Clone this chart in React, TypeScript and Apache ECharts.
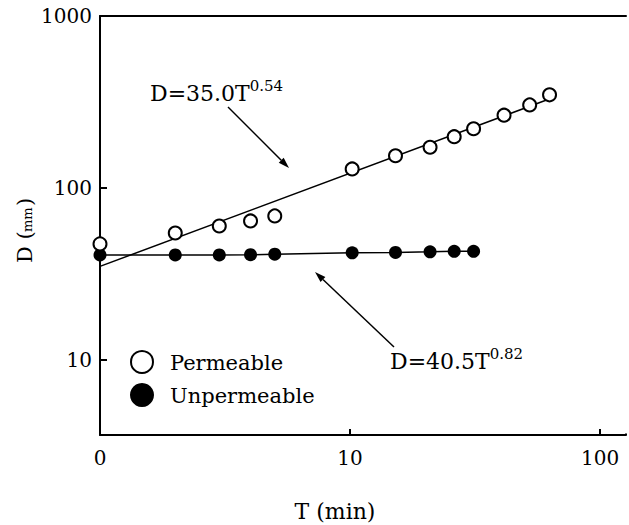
import React, { useEffect, useRef } from "react";
import * as echarts from "echarts";

const permT = [1, 2, 3, 4, 5, 10.2, 15.2, 20.9, 26.1, 31.2, 41.3, 52.3, 62.8];
const permD = [47.3, 54.7, 60.1, 64.3, 68.8, 129, 154, 172.6, 198.7, 221, 265, 304, 348];
const unpermT = [1, 2, 3, 4, 5, 10.2, 15.2, 20.9, 26.1, 31.2];
const unpermD = [40.8, 40.8, 40.8, 40.9, 41.2, 42.0, 42.2, 42.5, 42.8, 42.8];
const fitT = [1, 63];
const fitD = [35, 330];

const SERIF = "DejaVu Serif";

function isPow10(v: number) {
  const l = Math.log10(v);
  return Math.abs(l - Math.round(l)) < 1e-6;
}

function arrow(x1: number, y1: number, x2: number, y2: number) {
  const dx = x2 - x1;
  const dy = y2 - y1;
  const len = Math.sqrt(dx * dx + dy * dy);
  const ux = dx / len;
  const uy = dy / len;
  const nx = -uy;
  const ny = ux;
  const hl = 11;
  const hw = 3.5;
  const bx = x2 - ux * hl;
  const by = y2 - uy * hl;
  return [
    {
      type: "line",
      shape: { x1, y1, x2: bx, y2: by },
      style: { stroke: "#000", lineWidth: 1.5 },
    },
    {
      type: "polygon",
      shape: {
        points: [
          [x2, y2],
          [bx + nx * hw, by + ny * hw],
          [bx - nx * hw, by - ny * hw],
        ],
      },
      style: { fill: "#000" },
    },
  ];
}

export default function App() {
  const ref = useRef<HTMLDivElement>(null);
  useEffect(() => {
    if (!ref.current) return;
    const chart = echarts.init(ref.current, null, { renderer: "svg" });
    const labelStyle = {
      fontFamily: SERIF,
      fontSize: 20,
      color: "#000",
    };
    const eqRich = {
      m: { fontFamily: SERIF, fontSize: 22, lineHeight: 26, verticalAlign: "bottom", fill: "#000" },
      s: { fontFamily: SERIF, fontSize: 15, lineHeight: 26, verticalAlign: "top", fill: "#000" },
    };
    chart.setOption({
      animation: false,
      backgroundColor: "#fff",
      grid: { left: 100, right: 1, top: 16, bottom: 90, containLabel: false },
      xAxis: [
        {
          type: "log",
          min: 1,
          max: 127,
          position: "bottom",
          axisLine: { lineStyle: { color: "#000", width: 2 } },
          axisTick: { inside: true, length: 6, lineStyle: { color: "#000", width: 2 } },
          minorTick: { show: false },
          splitLine: { show: false },
          axisLabel: {
            ...labelStyle,
            margin: 13,
            formatter: (v: number) => (isPow10(v) ? (Math.abs(v - 1) < 1e-6 ? "0" : String(Math.round(v))) : ""),
          },
        },
        {
          type: "log",
          min: 1,
          max: 127,
          position: "top",
          axisLine: { lineStyle: { color: "#000", width: 2 } },
          axisTick: { show: false },
          axisLabel: { show: false },
          splitLine: { show: false },
        },
      ],
      yAxis: {
        type: "log",
        min: 3.66,
        max: 1000,
        axisLine: { lineStyle: { color: "#000", width: 2 } },
        axisTick: { inside: true, length: 7, lineStyle: { color: "#000", width: 2 } },
        minorTick: { show: false },
        splitLine: { show: false },
        axisLabel: {
          ...labelStyle,
          margin: 8,
          formatter: (v: number) => (isPow10(v) ? String(Math.round(v)) : ""),
        },
      },
      series: [
        {
          name: "fit",
          type: "line",
          data: fitT.map((t, i) => [t, fitD[i]]),
          symbol: "none",
          lineStyle: { color: "#000", width: 1.5 },
          z: 1,
        },
        {
          name: "Unpermeable",
          type: "line",
          data: unpermT.map((t, i) => [t, unpermD[i]]),
          symbol: "circle",
          symbolSize: 13,
          itemStyle: { color: "#000" },
          lineStyle: { color: "#000", width: 1.5 },
          z: 2,
        },
        {
          name: "Permeable",
          type: "scatter",
          data: permT.map((t, i) => [t, permD[i]]),
          symbol: "circle",
          symbolSize: 13,
          itemStyle: { color: "#fff", borderColor: "#000", borderWidth: 2, opacity: 1 },
          z: 3,
        },
      ],
      graphic: [
        {
          type: "rect",
          shape: { x: 616, y: 420, width: 13, height: 13.5 },
          style: { fill: "#fff" },
          z: 100,
        },
        ...arrow(228, 107, 289, 168),
        ...arrow(394, 347, 315, 272),
        {
          type: "text",
          x: 150,
          y: 78,
          style: { text: "{m|D=35.0T}{s|0.54}", rich: eqRich, align: "left", verticalAlign: "top" },
        },
        {
          type: "text",
          x: 390,
          y: 346,
          style: { text: "{m|D=40.5T}{s|0.82}", rich: eqRich, align: "left", verticalAlign: "top" },
        },
        {
          type: "circle",
          shape: { cx: 142, cy: 362, r: 11 },
          style: { fill: "#fff", stroke: "#000", lineWidth: 2 },
        },
        {
          type: "circle",
          shape: { cx: 142, cy: 395, r: 12 },
          style: { fill: "#000" },
        },
        {
          type: "text",
          x: 170,
          y: 363,
          style: { text: "Permeable", fontFamily: SERIF, fontSize: 21, fill: "#000", align: "left", verticalAlign: "middle" },
        },
        {
          type: "text",
          x: 170,
          y: 396,
          style: { text: "Unpermeable", fontFamily: SERIF, fontSize: 21, fill: "#000", align: "left", verticalAlign: "middle" },
        },
        {
          type: "text",
          x: 335,
          y: 511,
          style: { text: "T (min)", fontFamily: SERIF, fontSize: 22, fill: "#000", align: "center", verticalAlign: "middle" },
        },
        {
          type: "text",
          x: 14,
          y: 263,
          rotation: Math.PI / 2,
          style: { text: "D (", fontFamily: SERIF, fontSize: 21, fill: "#000" },
          z: 100,
        },
        {
          type: "text",
          x: 21,
          y: 232,
          rotation: Math.PI / 2,
          style: { text: "mm", fontFamily: SERIF, fontSize: 13, fill: "#000" },
          z: 100,
        },
        {
          type: "text",
          x: 14,
          y: 206,
          rotation: Math.PI / 2,
          style: { text: ")", fontFamily: SERIF, fontSize: 21, fill: "#000" },
          z: 100,
        },
      ],
    });
    return () => chart.dispose();
  }, []);
  return <div ref={ref} style={{ width: 629, height: 525, position: "absolute", left: 0, top: 0 }} />;
}
